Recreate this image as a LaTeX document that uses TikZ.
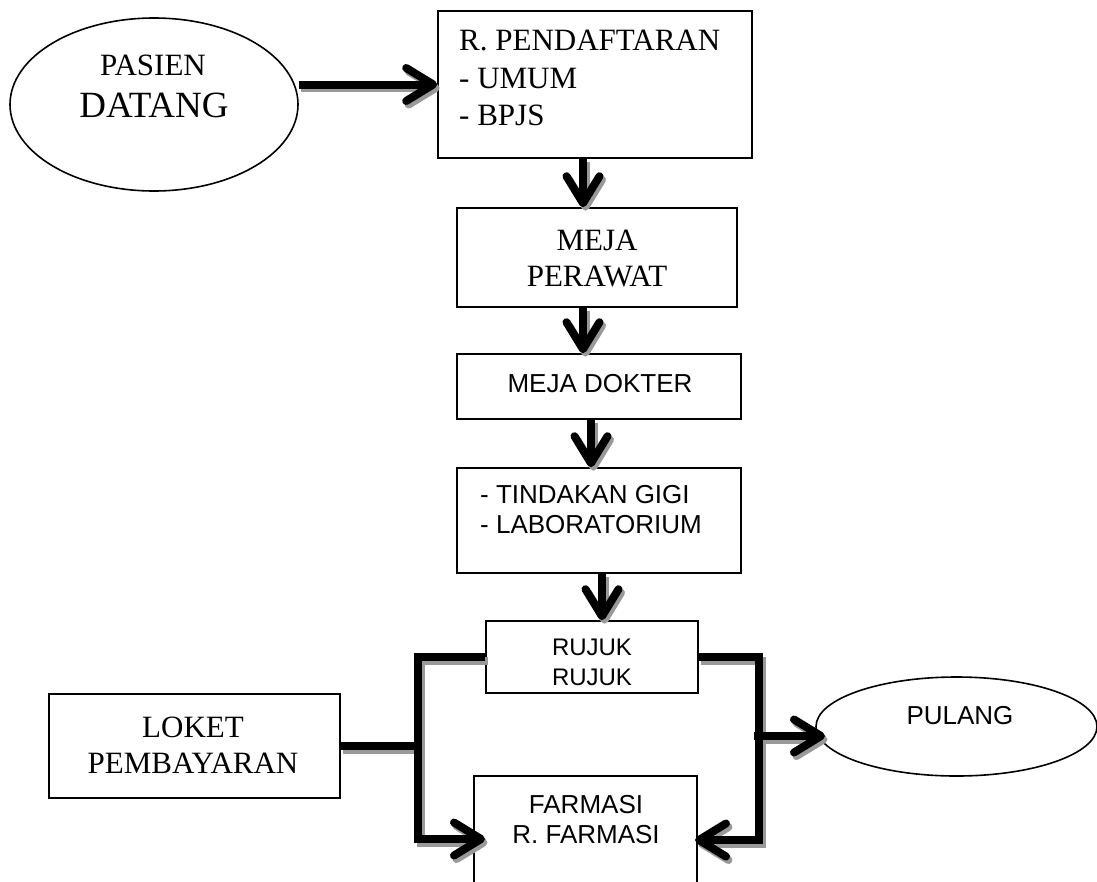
\documentclass[tikz,border=0pt]{standalone}
\usepackage{fontspec}
\setmainfont{Liberation Serif}
\newfontfamily\arialish{Liberation Sans}
\usetikzlibrary{arrows.meta,shapes.geometric}

\tikzset{
  box/.style={draw=black, line width=1.6pt, rectangle, inner sep=0pt},
  oval/.style={draw=black, line width=1.6pt, ellipse, inner sep=0pt},
  serif/.style={font=\fontsize{31}{31}\selectfont, inner sep=0pt, anchor=base},
  sans/.style={font=\arialish\fontsize{26}{26}\selectfont, inner sep=0pt, anchor=base},
  bar/.style={line width=8pt, line join=miter},
  flow/.style={bar, -{Straight Barb[length=27pt, width=33pt, round]}},
  shadowlayer/.style={transform canvas={shift={(2.5pt,-3.5pt)}}},
  inklayer/.style={},
}

\begin{document}
\begin{tikzpicture}[x=1pt, y=-1pt]
  \useasboundingbox (0,0) rectangle (1097,881);

  % shapes
  \node[oval, minimum width=288pt, minimum height=173pt] (pasien) at (154,104.5) {};
  \node[box, minimum width=314pt, minimum height=147pt] (pend) at (595,84.5) {};
  \node[box, minimum width=280pt, minimum height=99pt] (perawat) at (597,257.5) {};
  \node[box, minimum width=284pt, minimum height=65pt] (dokter) at (599,386.5) {};
  \node[box, minimum width=284pt, minimum height=105pt] (tindakan) at (599,520.5) {};
  \node[box, minimum width=212pt, minimum height=72pt] (rujuk) at (592,657) {};
  \node[box, minimum width=291pt, minimum height=104pt] (loket) at (194.5,746) {};
  \node[box, minimum width=223pt, minimum height=154pt] (farmasi) at (585.5,853) {};
  \node[oval, minimum width=281pt, minimum height=99pt] (pulang) at (956.5,726.5) {};

  % texts
  \node[serif] (t-pasien) at (153,75) {PASIEN};
  \node[serif, font=\fontsize{37}{37}\selectfont] (t-datang) at (154,117) {DATANG};
  \node[serif, anchor=base west] (t-pend1) at (459,50) {R. PENDAFTARAN};
  \node[serif, anchor=base west] (t-pend2) at (459,88) {- UMUM};
  \node[serif, anchor=base west] (t-pend3) at (459,125) {- BPJS};
  \node[serif] (t-meja) at (597,250) {MEJA};
  \node[serif] (t-perawat) at (597,286) {PERAWAT};
  \node[sans] (t-dokter) at (600,392) {MEJA DOKTER};
  \node[sans, anchor=base west] (t-tind1) at (480,503) {- TINDAKAN GIGI};
  \node[sans, anchor=base west] (t-tind2) at (480,533) {- LABORATORIUM};
  \node[sans, font=\arialish\fontsize{24}{24}\selectfont] (t-rujuk1) at (592,655) {RUJUK};
  \node[sans, font=\arialish\fontsize{24}{24}\selectfont] (t-rujuk2) at (592,685) {RUJUK};
  \node[sans] (t-farm1) at (586,813) {FARMASI};
  \node[sans] (t-farm2) at (586,843) {R. FARMASI};
  \node[serif] (t-loket1) at (193,737) {LOKET};
  \node[serif] (t-loket2) at (193,773) {PEMBAYARAN};
  \node[sans] (t-pulang) at (960,724) {PULANG};

  % junction points of the two side bars
  \coordinate (lbar) at (418,839);
  \coordinate (ljoin) at (418,746);
  \coordinate (fin-l) at (485,839);
  \coordinate (rbar) at (759,840);
  \coordinate (rjoin) at (754,736);
  \coordinate (fin-r) at (695,840);
  \coordinate (pul-in) at (825,736);

  % connectors: a grey drop shadow first, then the black stroke on top
  \foreach \layer/\ink in {shadowlayer/black!40, inklayer/black} {
    \begin{scope}[\layer, draw=\ink]
      \draw[flow] (pasien.east |- pend.west) -- (pend.west);
      \draw[flow] ([xshift=-12pt]pend.south) -- ([xshift=-14pt]perawat.north);
      \draw[flow] ([xshift=-14pt]perawat.south) -- ([xshift=-16pt]dokter.north);
      \draw[flow] ([xshift=-8pt]dokter.south) -- ([xshift=-8pt]tindakan.north);
      \draw[flow] ([xshift=3pt]tindakan.south) -- ([xshift=10pt]rujuk.north);

      % left bar: payment counter and pharmacy
      \draw[flow] (rujuk.west) -| (lbar) -- (fin-l);
      \draw[bar] (loket.east) -- (ljoin);

      % right bar: home and pharmacy
      \draw[flow] (rujuk.east) -| (rbar) -- (fin-r);
      \draw[flow] (rjoin) -- (pul-in);
    \end{scope}
  }
\end{tikzpicture}
\end{document}
